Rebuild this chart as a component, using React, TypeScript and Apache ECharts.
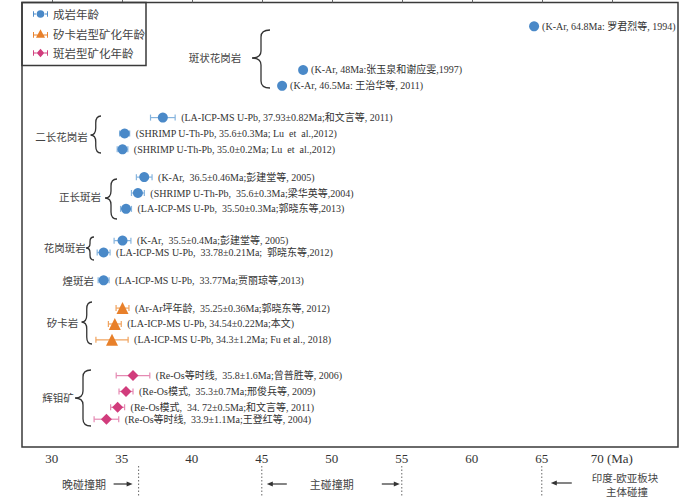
import React, { useEffect, useRef } from "react";
import * as echarts from "echarts";

// ---- data ----
const seriesNames = ["成岩年龄", "矽卡岩型矿化年龄", "斑岩型矿化年龄"];
const notes = [
  "(K-Ar, 64.8Ma: 罗君烈等, 1994)",
  "(K-Ar, 48Ma:张玉泉和谢应雯,1997)",
  "(K-Ar, 46.5Ma: 王治华等, 2011)",
  "(LA-ICP-MS U-Pb, 37.93±0.82Ma;和文言等, 2011)",
  "(SHRIMP U-Th-Pb, 35.6±0.3Ma; Lu  et  al.,2012)",
  "(SHRIMP U-Th-Pb, 35.0±0.2Ma; Lu  et  al.,2012)",
  "(K-Ar,  36.5±0.46Ma;彭建堂等, 2005)",
  "(SHRIMP U-Th-Pb,  35.6±0.3Ma;梁华英等,2004)",
  "(LA-ICP-MS U-Pb,  35.50±0.3Ma;郭晓东等,2013)",
  "(K-Ar,  35.5±0.4Ma;彭建堂等, 2005)",
  "(LA-ICP-MS U-Pb,  33.78±0.21Ma;  郭晓东等,2012)",
  "(LA-ICP-MS U-Pb,  33.77Ma;贾丽琼等,2013)",
  "(Ar-Ar坪年龄,  35.25±0.36Ma;郭晓东等, 2012)",
  "(LA-ICP-MS U-Pb, 34.54±0.22Ma;本文)",
  "(LA-ICP-MS U-Pb, 34.3±1.2Ma; Fu et al., 2018)",
  "(Re-Os等时线,  35.8±1.6Ma;曾普胜等, 2006)",
  "(Re-Os模式,  35.3±0.7Ma;邢俊兵等, 2009)",
  "(Re-Os模式,  34. 72±0.5Ma;和文言等, 2011)",
  "(Re-Os等时线,  33.9±1.1Ma;王登红等, 2004)",
];
// ages as plotted in the picture (Ma)
const ages = [64.45, 47.95, 46.45, 37.93, 35.2, 35.05, 36.6, 36.15, 35.3, 35.05, 33.7, 33.7, 35.05, 34.5, 34.3, 35.8, 35.3, 34.7, 33.9];
// half-width of drawn error bars (Ma)
const errors = [0, 0, 0, 0.88, 0.36, 0.38, 0.56, 0.46, 0.39, 0.6, 0.46, 0.39, 0.46, 0.46, 1.15, 1.2, 0.5, 0.5, 0.88];
// 0 = 成岩, 1 = 矽卡岩型, 2 = 斑岩型
const kinds = [0, 0, 0, 0, 0, 0, 0, 0, 0, 0, 0, 0, 1, 1, 1, 2, 2, 2, 2];
const xTicks = [30, 35, 40, 45, 50, 55, 60, 65, 70];
const groupNames = ["斑状花岗岩", "二长花岗岩", "正长斑岩", "花岗斑岩", "煌斑岩", "矽卡岩", "辉钼矿"];
const stageNames = ["晚碰撞期", "主碰撞期", "印度-欧亚板块", "主体碰撞"];
const stageBounds = [36.2, 45, 55, 65];

// ---- layout (not data) ----
const rowSlot = [6, 17, 21, 29, 33, 37, 44, 48, 52, 60, 63, 70, 77, 81, 85, 94, 98, 102, 105];
const SLOT_MAX = 112;
const groupLabelPos = [
  [215, 57], [61.5, 136], [80, 196], [64.7, 247], [78.3, 280], [62.5, 322], [58, 397],
];
// brace: tipX, endX, top, bottom, tipY
const braces = [
  [252, 270, 30, 88, 58],
  [90.5, 101, 116, 153, 135],
  [105, 117, 179, 219, 198],
  [86, 94, 237, 260, 248],
  [81.5, 92, 302, 344, 322],
  [75, 91, 370, 426, 398],
];

const colors = ["#4a89c8", "#e8802a", "#d13c7c"];
const barColors = ["#86b4de", "#f0a35e", "#e58ab3"];
const symbols = ["circle", "triangle", "diamond"];
const symbolSizes = [10, 12, 11];
const legendIcons = [
  "path://M0,5.5H3.5V6.5H0Z M0,3H1V9H0Z M12.5,5.5H16V6.5H12.5Z M15,3H16V9H15Z M4,6A4,4 0 1,0 12,6A4,4 0 1,0 4,6Z",
  "path://M0,6.5H5V7.5H0Z M0,4H1V10H0Z M11,6.5H16V7.5H11Z M15,4H16V10H15Z M8,1L12.8,10H3.2Z",
  "path://M0,5.5H4V6.5H0Z M0,3H1V9H0Z M12,5.5H16V6.5H12Z M15,3H16V9H15Z M8,1.5L12,6L8,10.5L4,6Z",
];

const SERIF = "'Liberation Serif', 'Noto Sans CJK SC', serif";
const CJK = "'Noto Sans CJK SC', sans-serif";

function braceD(b: number[]) {
  const [xt, xe, top, bot, yt] = b;
  const xm = (xt + xe) / 2;
  const r1 = Math.min(7, (yt - top) / 2.5);
  const r2 = Math.min(7, (bot - yt) / 2.5);
  return `M${xe},${top} Q${xm},${top} ${xm},${top + r1} L${xm},${yt - r1} Q${xm},${yt} ${xt},${yt} Q${xm},${yt} ${xm},${yt + r2} L${xm},${bot - r2} Q${xm},${bot} ${xe},${bot}`;
}

braces.forEach((b, i) => {
  echarts.graphic.registerShape("brace" + i, echarts.graphic.extendPath(braceD(b), {}) as any);
});

export default function App() {
  const ref = useRef<HTMLDivElement>(null);
  useEffect(() => {
    const chart = echarts.init(ref.current!, null, { renderer: "svg" });
    const idx = ages.map((_, i) => i);
    const scatterSeries = seriesNames.map((name, k) => ({
      name,
      type: "scatter",
      symbol: symbols[k],
      symbolSize: symbolSizes[k],
      itemStyle: { color: colors[k], opacity: 1 },
      z: 4,
      data: idx.filter((i) => kinds[i] === k).map((i) => [ages[i], rowSlot[i]]),
    }));
    const errSeries = {
      type: "custom",
      z: 3,
      silent: true,
      data: idx.map((i) => [ages[i], rowSlot[i], errors[i]]),
      renderItem: (params: any, api: any) => {
        const i = params.dataIndex;
        const a = api.value(0), s = api.value(1), e = api.value(2);
        const c = api.coord([a, s]);
        const lo = api.coord([a - e, s]);
        const hi = api.coord([a + e, s]);
        const col = barColors[kinds[i]];
        const children: any[] = [];
        if (e > 0) {
          children.push({ type: "line", shape: { x1: lo[0], y1: c[1], x2: hi[0], y2: c[1] }, style: { stroke: col, lineWidth: 1.2 } });
          children.push({ type: "line", shape: { x1: lo[0], y1: c[1] - 3, x2: lo[0], y2: c[1] + 3 }, style: { stroke: col, lineWidth: 1.2 } });
          children.push({ type: "line", shape: { x1: hi[0], y1: c[1] - 3, x2: hi[0], y2: c[1] + 3 }, style: { stroke: col, lineWidth: 1.2 } });
        }
        const tx = e > 0 ? Math.max(hi[0] + 6, c[0] + 8) : c[0] + 8;
        children.push({
          type: "text",
          style: { text: notes[i], x: tx, y: c[1], verticalAlign: "middle", align: "left", fill: "#333", fontSize: 10, fontFamily: SERIF },
        });
        return { type: "group", children };
      },
    };

    chart.setOption({
      animation: false,
      backgroundColor: "#fff",
      grid: { left: 22, right: 22, top: 2.5, bottom: 50, show: true, borderColor: "#3a3a3a", borderWidth: 1.5, containLabel: false },
      xAxis: {
        type: "value",
        min: 27.87,
        max: 74.73,
        axisLine: { show: false },
        splitLine: { show: false },
        axisTick: { show: true, inside: true, length: 4, customValues: xTicks, lineStyle: { color: "#666" } },
        axisLabel: {
          customValues: xTicks,
          margin: 5,
          color: "#333",
          fontSize: 13,
          fontFamily: SERIF,
          formatter: (v: number) => (v === 70 ? "70 (Ma)" : String(v)),
        },
      },
      yAxis: {
        type: "value",
        min: 0,
        max: SLOT_MAX,
        inverse: true,
        show: false,
        splitLine: { show: false },
      },
      legend: {
        orient: "vertical",
        left: 28,
        top: 2,
        itemWidth: 15,
        itemHeight: 11,
        itemGap: 5.5,
        textStyle: { fontSize: 11.5, color: "#444", fontFamily: CJK, lineHeight: 14 },
        data: seriesNames.map((n, k) => ({ name: n, icon: legendIcons[k] })),
      },
      series: [errSeries, ...scatterSeries],
    });

    const px = (v: number) => chart.convertToPixel({ xAxisIndex: 0 }, v) as number;
    const graphics: any[] = [];
    // legend frame
    graphics.push({ type: "rect", shape: { x: 22, y: 2.5, width: 124, height: 63 }, style: { fill: "none", stroke: "#3a3a3a", lineWidth: 1.5 }, z: 10 });
    // group labels and braces
    groupNames.forEach((g, i) => {
      graphics.push({
        type: "text",
        style: { text: g, x: groupLabelPos[i][0], y: groupLabelPos[i][1], align: "center", verticalAlign: "middle", fill: "#444", fontSize: 10.5, fontFamily: CJK },
      });
    });
    braces.forEach((_, i) => {
      graphics.push({ type: "brace" + i, x: 0, y: 0, style: { stroke: "#333", fill: "none", lineWidth: 1.3 } });
    });
    // stage boundaries
    stageBounds.forEach((v) => {
      const x = px(v);
      graphics.push({ type: "line", shape: { x1: x, y1: 466, x2: x, y2: 497 }, style: { stroke: "#666", lineWidth: 1, lineDash: [1.5, 2] } });
    });
    const arrow = (x1: number, x2: number, y: number) => {
      const dir = x2 > x1 ? 1 : -1;
      graphics.push({ type: "line", shape: { x1, y1: y, x2: x2 - dir * 4, y2: y }, style: { stroke: "#333", lineWidth: 1.2 } });
      graphics.push({ type: "polygon", shape: { points: [[x2, y], [x2 - dir * 6, y - 2.6], [x2 - dir * 6, y + 2.6]] }, style: { fill: "#333" } });
    };
    const b = stageBounds.map(px);
    graphics.push({ type: "text", style: { text: stageNames[0], x: 84, y: 484, align: "center", verticalAlign: "middle", fill: "#444", fontSize: 11, fontFamily: CJK } });
    arrow(b[0] - 25, b[0] - 6, 484);
    graphics.push({ type: "text", style: { text: stageNames[1], x: (b[1] + b[2]) / 2, y: 484, align: "center", verticalAlign: "middle", fill: "#444", fontSize: 11, fontFamily: CJK } });
    arrow(b[1] + 25, b[1] + 5, 484);
    arrow(b[2] - 20, b[2] - 2, 484);
    graphics.push({ type: "text", style: { text: stageNames[2], x: 625, y: 477, align: "center", verticalAlign: "middle", fill: "#444", fontSize: 10.5, fontFamily: CJK, lineHeight: 12 } });
    graphics.push({ type: "text", style: { text: stageNames[3], x: 627, y: 491, align: "center", verticalAlign: "middle", fill: "#444", fontSize: 10.5, fontFamily: CJK, lineHeight: 12 } });
    arrow(b[3] + 30, b[3] + 9, 483);

    chart.setOption({ graphic: graphics });
    return () => chart.dispose();
  }, []);
  return <div ref={ref} style={{ position: "fixed", left: 0, top: 0, width: 700, height: 497 }} />;
}
